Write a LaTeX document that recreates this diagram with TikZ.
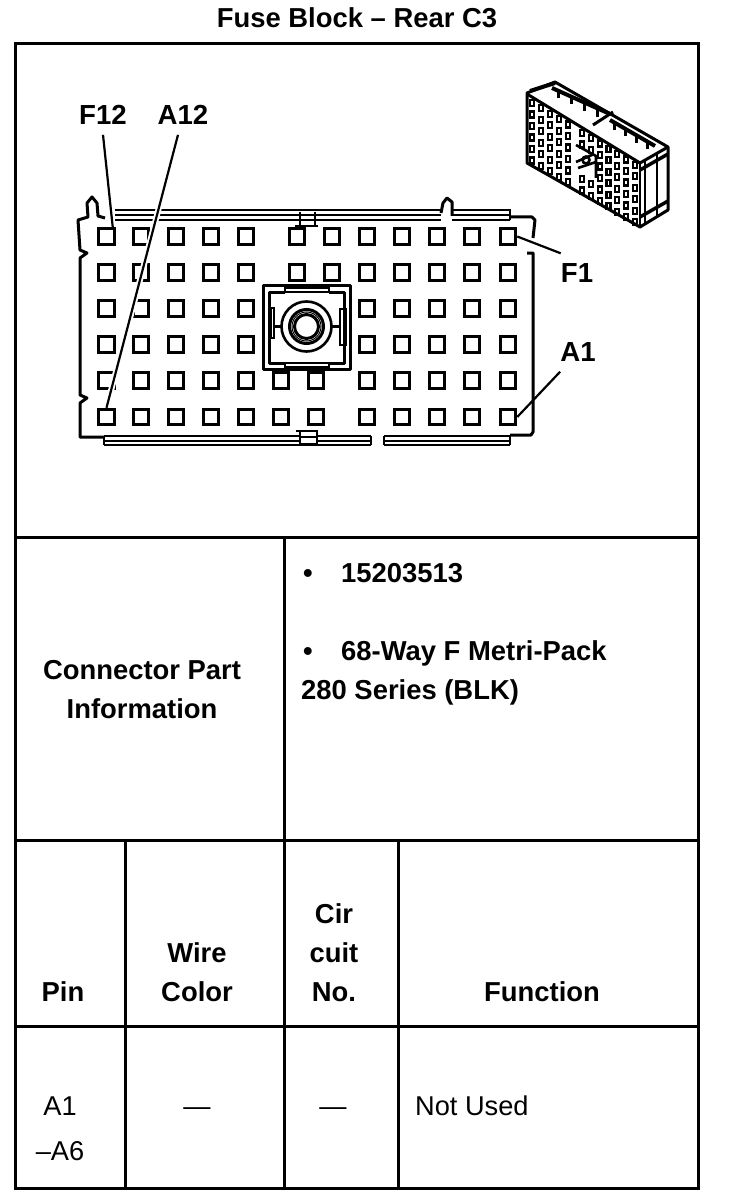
\documentclass[tikz,border=0pt]{standalone}
\usepackage{fontspec}
\setmainfont{Liberation Sans}
\tikzset{
	frameline/.style={line width=3pt},
	outline/.style={line width=3pt,line join=round},
	railline/.style={line width=2.6pt},
	leader/.style={line width=2.2pt},
	pinbox/.style={draw,rectangle,line width=3pt,minimum size=15.5pt,inner sep=0pt},
	pinlabel/.style={font=\fontsize{27.6pt}{39pt}\selectfont\bfseries,inner xsep=0pt,inner ysep=10pt},
	headtext/.style={font=\fontsize{27.4pt}{39pt}\selectfont\bfseries,inner sep=0pt,text depth=0pt,align=center,anchor=south},
	celltext/.style={font=\fontsize{27.4pt}{39pt}\selectfont\bfseries,inner sep=0pt,anchor=base west},
	plaintext/.style={font=\fontsize{27.2pt}{39pt}\selectfont,inner sep=0pt,text depth=0pt,align=center,anchor=south},
	smallpin/.style={line width=2.2pt}
}
\begin{document}
\begin{tikzpicture}[x=1pt,y=-1pt]
	\useasboundingbox (0,0) rectangle (736,1198);

	% table
	\draw[frameline] (15,44) rectangle (698,1188);
	\draw[frameline] (15,537) -- (698,537);
	\draw[frameline] (15,840) -- (698,840);
	\draw[frameline] (15,1026) -- (698,1026);
	\draw[frameline] (284,537) -- (284,1188);
	\draw[frameline] (125,840) -- (125,1188);
	\draw[frameline] (398,840) -- (398,1188);

	\node[headtext] (title) at (357,28) {Fuse Block -- Rear C3};
	\node[headtext] (partinfo) at (142,719) {Connector Part\\Information};
	\node[celltext] (bulletA) at (303,582) {•};
	\node[celltext] (partno) at (341,582) {15203513};
	\node[celltext] (bulletB) at (303,660) {•};
	\node[celltext] (wayA) at (341,660) {68-Way F Metri-Pack};
	\node[celltext] (wayB) at (301,699) {280 Series (BLK)};
	\node[headtext] (pinhead) at (63,1002) {Pin};
	\node[headtext] (wirehead) at (197,1002) {Wire\\Color};
	\node[headtext] (circhead) at (334,1002) {Cir\\cuit\\No.};
	\node[headtext] (funchead) at (542,1002) {Function};
	\node[plaintext] (pinrow) at (60,1161) {A1\\[6pt]--A6};
	\node[plaintext] (wirerow) at (197,1116) {---};
	\node[plaintext] (circrow) at (333,1116) {---};
	\node[plaintext,anchor=south west] (funcrow) at (415,1116) {Not Used};

	% connector outline
	\draw[outline] (105,218) -- (98,216) -- (97,203) -- (92,197) -- (87,203) -- (88,217) -- (78,220) -- (80,250) -- (87,253) -- (80,258) -- (80,395) -- (87,398) -- (80,403) -- (80,437) -- (104,437);
	\draw[outline] (510,217) -- (532,217) -- (535,220) -- (533,238);
	\draw[outline] (527,253) -- (533,253) -- (533,432) -- (531,435) -- (510,435);
	\draw[outline] (441,213) -- (443,203) -- (447,198) -- (452,202) -- (452,216);

	% rails
	\foreach \y in {210,215,220} {
		\draw[railline] (115,\y) -- (441,\y);
		\draw[railline] (452,\y) -- (510,\y);
	}
	\foreach \y in {436,441,445} {
		\draw[railline] (104,\y) -- (371,\y);
		\draw[railline] (384,\y) -- (510,\y);
	}
	\draw[railline] (104,436) -- (104,445);
	\draw[railline] (371,436) -- (371,445);
	\draw[railline] (384,436) -- (384,445);
	\draw[railline] (510,209) -- (510,220);
	\draw[railline] (510,436) -- (510,445);
	\draw[railline] (300,212) -- (300,225);
	\draw[railline] (315,212) -- (315,225);
	\draw[railline] (295,226) -- (318,226);
	\draw[railline,fill=white] (296,431) -- (317,431) -- (317,444) -- (300,444) -- (300,431);
	\draw[railline] (300,437) -- (317,437);

	% pins
	\foreach \r/\y in {1/236.5,2/272.5}
	\foreach \c/\x in {1/106.5,2/141,3/176,4/211,5/246,6/297,7/332,8/367,9/402,10/437,11/472,12/508}
		\node[pinbox] (p\r-\c) at (\x,\y) {};
	\foreach \r/\y in {3/308.5,4/344.5}
	\foreach \c/\x in {1/106.5,2/141,3/176,4/211,5/246,8/367,9/402,10/437,11/472,12/508}
		\node[pinbox] (p\r-\c) at (\x,\y) {};
	\foreach \r/\y in {5/380.5,6/417}
	\foreach \c/\x in {1/106.5,2/141,3/176,4/211,5/246,6/281,7/316,8/367,9/402,10/437,11/472,12/508}
		\node[pinbox] (p\r-\c) at (\x,\y) {};

	% center latch
	\draw[outline] (263,285) rectangle (350,369);
	\draw[outline] (285,292) -- (269,292) -- (269,363) -- (285,363);
	\draw[outline] (329,292) -- (344,292) -- (344,363) -- (329,363);
	\draw[railline] (285,292) -- (285,288) -- (329,288) -- (329,292) -- cycle;
	\draw[railline] (285,363) -- (285,367) -- (329,367) -- (329,363) -- cycle;
	\draw[railline] (271,308) rectangle (274,338);
	\draw[railline] (340,309) rectangle (346,345);
	\draw[railline] (306.5,326.5) circle (25);
	\draw[line width=3pt] (306.5,326.5) circle (17);
	\draw[line width=1pt] (306.5,326.5) circle (14.5);
	\draw[line width=3pt] (306.5,326.5) circle (12);
	\draw[railline] (274,326.5) -- (281.5,326.5);
	\draw[railline] (331.5,326.5) -- (340,326.5);

	% pin labels and leaders
	\node[pinlabel] (lblF12) at (103,115) {F12};
	\node[pinlabel] (lblA12) at (183,115) {A12};
	\node[pinlabel] (lblF1) at (577,273) {F1};
	\node[pinlabel] (lblA1) at (578,352) {A1};
	\draw[leader] (lblF12.south) -- ([xshift=-3pt]p1-1.north east);
	\draw[white,line width=6pt,shorten >=12pt] ([xshift=-5pt]lblA12.south) -- (p6-1.north);
	\draw[leader] ([xshift=-5pt]lblA12.south) -- (p6-1.north);
	\draw[leader] (p1-12.east) -- (lblF1.north west);
	\draw[leader] (p6-12.east) -- (lblA1.south west);

	% small view of the connector
	\draw[outline,fill=white] (527,93) -- (555,82) -- (668,147) -- (668,210) -- (640,227) -- (527,163) -- cycle;
	\draw[line width=3pt] (527,94) -- (640,163) -- (668,147);
	\draw[railline] (640,163) -- (640,227);
	\draw[railline] (645,160) -- (645,224);
	\draw[railline] (657,153) -- (657,217);
	\draw[line width=3.5pt] (640,217) -- (668,201);
	\draw[line width=3.5pt] (640,170) -- (668,154);
	\draw[line width=4pt] (530,91) -- (555,83);
	\foreach \c in {0,...,4}
	\foreach \r in {0,...,5}
		\draw[smallpin] (532+9*\c-2,103+5.4*\c+11.5*\r-3) rectangle (532+9*\c+2,103+5.4*\c+11.5*\r+3);
	\foreach \c in {2,...,6}
	\foreach \r in {0,...,5}
		\draw[smallpin] (582+8.8*\c-2,133+5.3*\c+11.5*\r-3) rectangle (582+8.8*\c+2,133+5.3*\c+11.5*\r+3);
	\foreach \c in {0,1}
	\foreach \r in {0,1,4,5}
		\draw[smallpin] (582+8.8*\c-2,133+5.3*\c+11.5*\r-3) rectangle (582+8.8*\c+2,133+5.3*\c+11.5*\r+3);
	\draw[railline] (576,145) -- (596,156) -- (596,178);
	\draw[railline] (576,162) -- (594,154);
	\draw[railline] (578,168) -- (596,162);
	\draw[railline] (586,160) circle (3.5);

	% teeth on top
	\draw[line width=4pt] (552,88) -- (610,114);
	\draw[line width=4pt] (610,120) -- (655,146);
	\draw[line width=3pt] (593,125) -- (613,112);
	\foreach \t in {0,1,2,3}
		\draw[line width=3pt] (558+13*\t,91+6.5*\t) -- (558+13*\t,98+6.5*\t);
	\foreach \t in {0,1,2,3}
		\draw[line width=3pt] (614+11*\t,123+6.5*\t) -- (614+11*\t,130+6.5*\t);
\end{tikzpicture}
\end{document}
